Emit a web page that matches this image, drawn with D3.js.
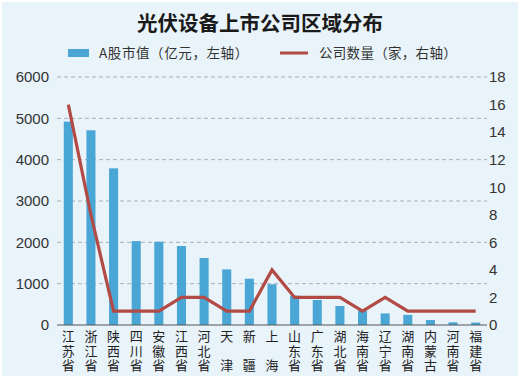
<!DOCTYPE html>
<html>
<head>
<meta charset="utf-8">
<script src="https://cdn.jsdelivr.net/npm/d3@7"></script>
<style>
  body { margin: 0; background: #fff; }
  svg { display: block; }
</style>
</head>
<body>
<div id="chart"></div>
<script>
// regions (stacked vertically in the x labels)
var regions = ["江苏省", "浙江省", "陕西省", "四川省", "安徽省", "江西省", "河北省", "天津", "新疆", "上海",
               "山东省", "广东省", "湖北省", "海南省", "辽宁省", "湖南省", "内蒙古", "河南省", "福建省"];
// A-share market value (100 million yuan, left axis)
var marketValue = [4920, 4710, 3790, 2030, 2015, 1910, 1620, 1345, 1120, 985,
                   710, 605, 460, 350, 280, 245, 120, 65, 60];
// number of companies (right axis)
var companyCount = [16, 8, 1, 1, 1, 2, 2, 1, 1, 4, 2, 2, 2, 1, 2, 1, 1, 1, 1];
var leftTicks = [0, 1000, 2000, 3000, 4000, 5000, 6000];
var rightTicks = [0, 2, 4, 6, 8, 10, 12, 14, 16, 18];

const width = 520, height = 378;
const margin = {top: 77, right: 33, bottom: 53, left: 57};
const cjk = "'Noto Sans CJK SC', sans-serif";
const num = "'Liberation Sans', Arial, sans-serif";

var svg = d3.select("#chart").append("svg")
  .attr("width", width)
  .attr("height", height);

// background panel with a thin white frame
svg.append("rect").attr("width", width).attr("height", height).attr("fill", "#fff");
svg.append("rect")
  .attr("x", 2).attr("y", 2)
  .attr("width", width - 4).attr("height", height - 4)
  .attr("fill", "#e9f3fa");

var x = d3.scaleBand()
  .domain(regions)
  .range([margin.left, width - margin.right])
  .paddingInner(0.6)
  .paddingOuter(0.3);

var yLeft = d3.scaleLinear().domain([0, 6000]).range([height - margin.bottom, margin.top]);
var yRight = d3.scaleLinear().domain([0, 18]).range([height - margin.bottom, margin.top]);

// title
svg.append("text")
  .attr("x", width / 2).attr("y", 31)
  .attr("text-anchor", "middle")
  .style("font-family", cjk).style("font-weight", "bold").style("font-size", "20.5px")
  .attr("fill", "#1a1a1a")
  .text("光伏设备上市公司区域分布");

// legend
var legend = svg.append("g");
legend.append("rect").attr("x", 68).attr("y", 49).attr("width", 21).attr("height", 8).attr("fill", "#4aa6d5");
legend.append("text").attr("x", 99).attr("y", 58)
  .style("font-family", cjk).style("font-size", "13.5px").style("letter-spacing", "0.6px")
  .attr("fill", "#333").text("A股市值（亿元，左轴）");
legend.append("line").attr("x1", 280).attr("x2", 308).attr("y1", 53).attr("y2", 53)
  .attr("stroke", "#b24a45").attr("stroke-width", 3);
legend.append("text").attr("x", 319).attr("y", 58)
  .style("font-family", cjk).style("font-size", "13.5px").style("letter-spacing", "0.3px")
  .attr("fill", "#333").text("公司数量（家，右轴）");

// dashed grid lines (left axis)
svg.append("g")
  .selectAll("line")
  .data(leftTicks.filter(d => d > 0))
  .enter()
  .append("line")
  .attr("x1", margin.left).attr("x2", width - margin.right)
  .attr("y1", d => yLeft(d)).attr("y2", d => yLeft(d))
  .attr("stroke", "#a9b0b5").attr("stroke-width", 1)
  .attr("stroke-dasharray", "4,3");

// left axis labels
var leftAxis = svg.append("g")
  .attr("transform", "translate(" + margin.left + ",0)")
  .call(d3.axisLeft(yLeft).tickValues(leftTicks).tickFormat(d3.format("d")).tickSize(0).tickPadding(8));
leftAxis.select(".domain").remove();
leftAxis.selectAll("text")
  .style("font-family", num).style("font-size", "15px").attr("fill", "#333");

// right axis labels
var rightAxis = svg.append("g")
  .attr("transform", "translate(" + (width - margin.right) + ",0)")
  .call(d3.axisRight(yRight).tickValues(rightTicks).tickSize(0).tickPadding(2));
rightAxis.select(".domain").remove();
rightAxis.selectAll("text")
  .style("font-family", num).style("font-size", "15px").attr("fill", "#333");

// bars
svg.append("g")
  .selectAll("rect")
  .data(marketValue)
  .enter()
  .append("rect")
  .attr("x", (d, i) => x(regions[i]))
  .attr("y", d => yLeft(d))
  .attr("width", x.bandwidth())
  .attr("height", d => yLeft(0) - yLeft(d))
  .attr("fill", "#4aa6d5");

// baseline
svg.append("line")
  .attr("x1", margin.left).attr("x2", width - margin.right)
  .attr("y1", yLeft(0)).attr("y2", yLeft(0))
  .attr("stroke", "#555").attr("stroke-width", 1.2);

// company count line
var line = d3.line()
  .x((d, i) => x(regions[i]) + x.bandwidth() / 2)
  .y(d => yRight(d));

svg.append("path")
  .datum(companyCount)
  .attr("d", line)
  .attr("fill", "none")
  .attr("stroke", "#b24a45")
  .attr("stroke-width", 3.2)
  .attr("stroke-linejoin", "miter");

// x labels, one character per row (two-character names skip the middle row)
var xLabels = svg.append("g");
regions.forEach(function(d) {
  var chars = d.length === 2 ? [d[0], "", d[1]] : d.split("");
  chars.forEach(function(c, j) {
    if (!c) return;
    xLabels.append("text")
      .attr("x", x(d) + x.bandwidth() / 2)
      .attr("y", 341 + j * 14.5)
      .attr("text-anchor", "middle")
      .style("font-family", cjk).style("font-size", "13px")
      .attr("fill", "#222")
      .text(c);
  });
});
</script>
</body>
</html>
